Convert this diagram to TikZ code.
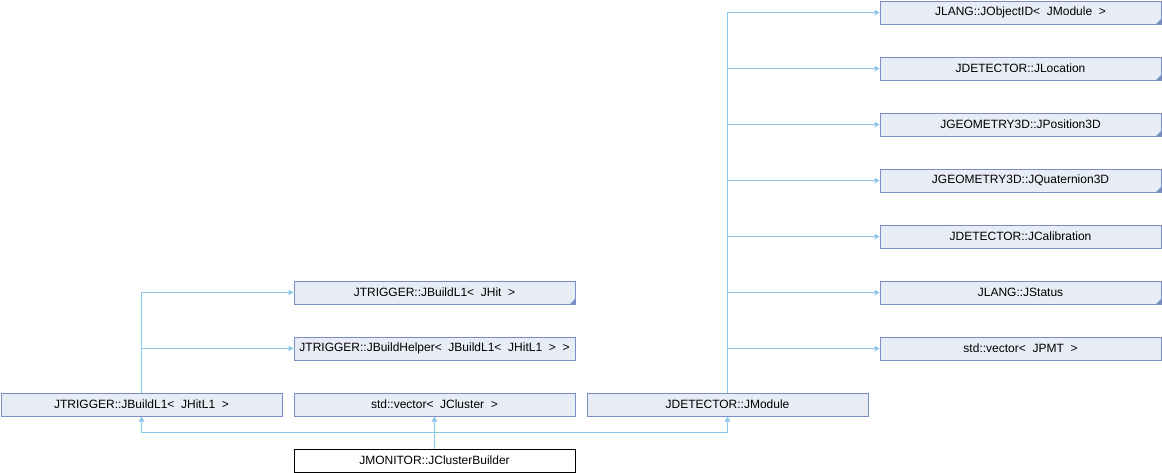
\documentclass[tikz,border=0pt]{standalone}
\usepackage{fontspec}
\setmainfont{Liberation Sans}
\usetikzlibrary{arrows.meta}
\definecolor{boxfill}{RGB}{232,236,245}
\definecolor{boxline}{RGB}{122,141,196}
\definecolor{edgec}{RGB}{140,200,234}
\tikzset{
  cls/.style={draw=boxline, fill=boxfill, line width=1pt, anchor=north west,
    minimum width=281pt, minimum height=23pt, inner sep=0pt,
    font=\fontsize{12}{13}\selectfont},
  mainbox/.style={cls, draw=black, fill=white},
  arr/.style={draw=edgec, line width=1pt, -{Triangle[length=5pt,width=5.5pt]}},
  corner/.style={fill=boxline}
}
\newcommand{\cornermark}[1]{\fill[corner] (#1.south east) -- ++(-6,0) -- ++(6,-6) -- cycle;}
\begin{document}
\begin{tikzpicture}[x=1pt,y=-1pt]
\useasboundingbox (0,0) rectangle (1162,472);
% right column
\node[cls] (objid) at (879.5,0.5) {JLANG::JObjectID<~~JModule~~>};
\node[cls] (loc) at (879.5,56.5) {JDETECTOR::JLocation};
\node[cls] (pos) at (879.5,112.5) {JGEOMETRY3D::JPosition3D};
\node[cls] (quat) at (879.5,168.5) {JGEOMETRY3D::JQuaternion3D};
\node[cls] (calib) at (879.5,224.5) {JDETECTOR::JCalibration};
\node[cls] (status) at (879.5,280.5) {JLANG::JStatus};
\node[cls] (vpmt) at (879.5,336.5) {std::vector<~~JPMT~~>};
% middle column
\node[cls] (bhit) at (293.5,280.5) {JTRIGGER::JBuildL1<~~JHit~~>};
\node[cls] (helper) at (293.5,336.5) {JTRIGGER::JBuildHelper<~~JBuildL1<~~JHitL1~~>~~>};
% bottom row
\node[cls] (bl1) at (0.5,392.5) {JTRIGGER::JBuildL1<~~JHitL1~~>};
\node[cls] (vclus) at (293.5,392.5) {std::vector<~~JCluster~~>};
\node[cls] (module) at (586.5,392.5) {JDETECTOR::JModule};
\node[mainbox] (cb) at (293.5,448.5) {JMONITOR::JClusterBuilder};
% corner marks
\cornermark{objid}
\cornermark{loc}
\cornermark{pos}
\cornermark{quat}
\cornermark{status}
\cornermark{bhit}
% connectors
\foreach \t in {objid,loc,pos,quat,calib,status,vpmt}
  \draw[arr] (module.north) |- (\t.west);
\foreach \t in {bhit,helper}
  \draw[arr] (bl1.north) |- (\t.west);
\draw[arr] (cb.north) -- (vclus.south);
\draw[arr] (cb.north) -- ++(0,-16.5) -| (bl1.south);
\draw[arr] (cb.north) -- ++(0,-16.5) -| (module.south);
\end{tikzpicture}
\end{document}
